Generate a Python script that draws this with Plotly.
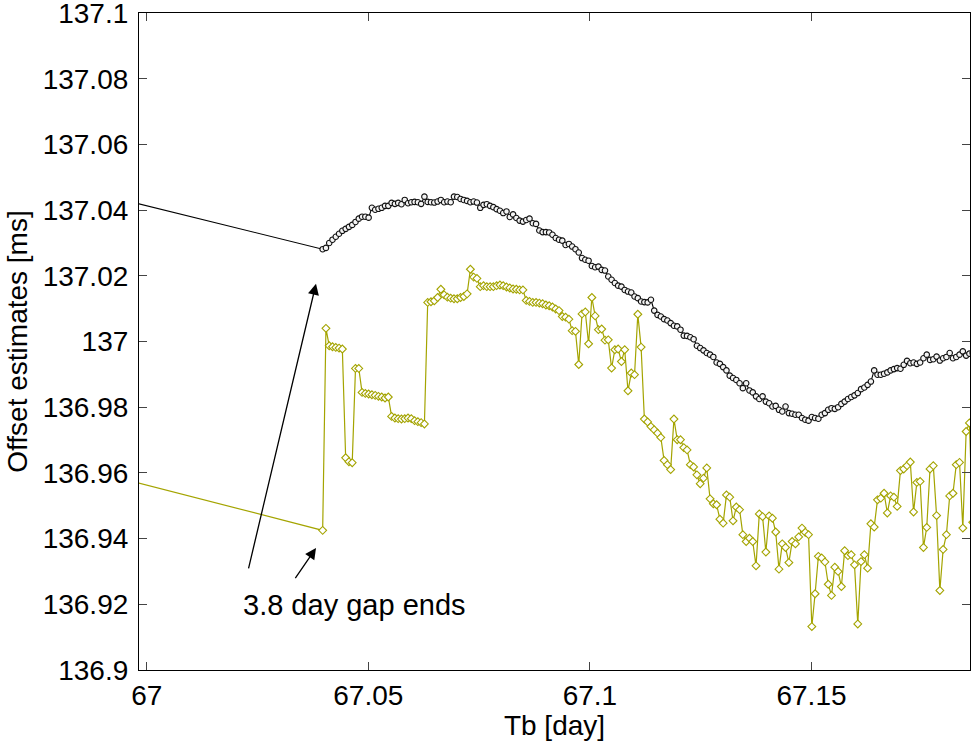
import plotly.graph_objects as go

# ---- data ----
t_before_gap = 63.2397          # last sample before the 3.8 day gap [day]
black_before_gap = 138.2935
yellow_before_gap = 138.2630

t_days = [
    67.03970, 67.04044, 67.04118, 67.04192, 67.04266, 67.04340, 67.04414, 67.04489, 67.04563,
    67.04637, 67.04711, 67.04785, 67.04859, 67.04933, 67.05007, 67.05081, 67.05155, 67.05229,
    67.05303, 67.05377, 67.05451, 67.05526, 67.05600, 67.05674, 67.05748, 67.05822, 67.05896,
    67.05970, 67.06044, 67.06118, 67.06192, 67.06266, 67.06340, 67.06414, 67.06489, 67.06563,
    67.06637, 67.06711, 67.06785, 67.06859, 67.06933, 67.07007, 67.07081, 67.07155, 67.07229,
    67.07303, 67.07377, 67.07451, 67.07526, 67.07600, 67.07674, 67.07748, 67.07822, 67.07896,
    67.07970, 67.08044, 67.08118, 67.08192, 67.08266, 67.08340, 67.08414, 67.08489, 67.08563,
    67.08637, 67.08711, 67.08785, 67.08859, 67.08933, 67.09007, 67.09081, 67.09155, 67.09229,
    67.09303, 67.09377, 67.09451, 67.09526, 67.09600, 67.09674, 67.09748, 67.09822, 67.09896,
    67.09970, 67.10044, 67.10118, 67.10192, 67.10266, 67.10340, 67.10414, 67.10489, 67.10563,
    67.10637, 67.10711, 67.10785, 67.10859, 67.10933, 67.11007, 67.11081, 67.11155, 67.11229,
    67.11303, 67.11377, 67.11451, 67.11526, 67.11600, 67.11674, 67.11748, 67.11822, 67.11896,
    67.11970, 67.12044, 67.12118, 67.12192, 67.12266, 67.12340, 67.12414, 67.12489, 67.12563,
    67.12637, 67.12711, 67.12785, 67.12859, 67.12933, 67.13007, 67.13081, 67.13155, 67.13229,
    67.13303, 67.13377, 67.13451, 67.13526, 67.13600, 67.13674, 67.13748, 67.13822, 67.13896,
    67.13970, 67.14044, 67.14118, 67.14192, 67.14266, 67.14340, 67.14414, 67.14489, 67.14563,
    67.14637, 67.14711, 67.14785, 67.14859, 67.14933, 67.15007, 67.15081, 67.15155, 67.15229,
    67.15303, 67.15377, 67.15451, 67.15526, 67.15600, 67.15674, 67.15748, 67.15822, 67.15896,
    67.15970, 67.16044, 67.16118, 67.16192, 67.16266, 67.16340, 67.16414, 67.16489, 67.16563,
    67.16637, 67.16711, 67.16785, 67.16859, 67.16933, 67.17007, 67.17081, 67.17155, 67.17229,
    67.17303, 67.17377, 67.17451, 67.17526, 67.17600, 67.17674, 67.17748, 67.17822, 67.17896,
    67.17970, 67.18044, 67.18118, 67.18192, 67.18266, 67.18340, 67.18414, 67.18489, 67.18563,
    67.18637,
]

black_offsets = [
    137.0281, 137.0285, 137.0300, 137.0310, 137.0319, 137.0328, 137.0337, 137.0343, 137.0349,
    137.0355, 137.0364, 137.0374, 137.0380, 137.0380, 137.0377, 137.0407, 137.0401, 137.0404,
    137.0407, 137.0413, 137.0413, 137.0422, 137.0419, 137.0422, 137.0418, 137.0431, 137.0421,
    137.0424, 137.0425, 137.0424, 137.0419, 137.0441, 137.0425, 137.0424, 137.0423, 137.0426,
    137.0431, 137.0424, 137.0426, 137.0424, 137.0441, 137.0440, 137.0434, 137.0431, 137.0428,
    137.0424, 137.0426, 137.0423, 137.0407, 137.0416, 137.0418, 137.0413, 137.0409, 137.0403,
    137.0398, 137.0391, 137.0396, 137.0379, 137.0387, 137.0376, 137.0368, 137.0365, 137.0370,
    137.0374, 137.0360, 137.0358, 137.0338, 137.0333, 137.0333, 137.0332, 137.0325, 137.0315,
    137.0310, 137.0307, 137.0294, 137.0297, 137.0289, 137.0281, 137.0271, 137.0254, 137.0249,
    137.0246, 137.0230, 137.0226, 137.0228, 137.0218, 137.0216, 137.0198, 137.0188, 137.0178,
    137.0170, 137.0167, 137.0157, 137.0152, 137.0149, 137.0137, 137.0132, 137.0122, 137.0120,
    137.0119, 137.0127, 137.0094, 137.0081, 137.0076, 137.0068, 137.0064, 137.0056, 137.0048,
    137.0046, 137.0036, 137.0018, 137.0017, 137.0013, 137.0007, 136.9987, 136.9980, 136.9973,
    136.9965, 136.9960, 136.9953, 136.9936, 136.9932, 136.9922, 136.9912, 136.9896, 136.9889,
    136.9883, 136.9873, 136.9858, 136.9873, 136.9851, 136.9845, 136.9833, 136.9825, 136.9833,
    136.9817, 136.9812, 136.9802, 136.9804, 136.9792, 136.9787, 136.9802, 136.9782, 136.9780,
    136.9777, 136.9777, 136.9767, 136.9762, 136.9759, 136.9770, 136.9767, 136.9765, 136.9777,
    136.9782, 136.9792, 136.9797, 136.9795, 136.9800, 136.9810, 136.9817, 136.9825, 136.9831,
    136.9836, 136.9843, 136.9855, 136.9860, 136.9868, 136.9878, 136.9912, 136.9899, 136.9899,
    136.9902, 136.9906, 136.9912, 136.9916, 136.9919, 136.9917, 136.9929, 136.9941, 136.9934,
    136.9936, 136.9932, 136.9936, 136.9949, 136.9960, 136.9944, 136.9946, 136.9954, 136.9942,
    136.9949, 136.9953, 136.9965, 136.9949, 136.9953, 136.9960, 136.9970, 136.9957, 136.9963,
    136.9965,
]

yellow_offsets = [
    136.9425, 137.0040, 136.9987, 136.9984, 136.9982, 136.9980, 136.9977, 136.9646, 136.9634,
    136.9631, 136.9918, 136.9918, 136.9845, 136.9842, 136.9840, 136.9838, 136.9836, 136.9833,
    136.9831, 136.9828, 136.9831, 136.9772, 136.9767, 136.9765, 136.9764, 136.9765, 136.9767,
    136.9765, 136.9759, 136.9756, 136.9753, 136.9749, 137.0119, 137.0121, 137.0124, 137.0134,
    137.0159, 137.0142, 137.0135, 137.0132, 137.0130, 137.0130, 137.0134, 137.0137, 137.0145,
    137.0220, 137.0196, 137.0192, 137.0167, 137.0170, 137.0167, 137.0167, 137.0167, 137.0170,
    137.0172, 137.0170, 137.0166, 137.0163, 137.0160, 137.0159, 137.0157, 137.0157, 137.0125,
    137.0122, 137.0119, 137.0119, 137.0117, 137.0115, 137.0111, 137.0109, 137.0105, 137.0099,
    137.0094, 137.0076, 137.0074, 137.0068, 137.0033, 137.0031, 136.9930, 137.0084, 137.0090,
    136.9993, 137.0134, 137.0078, 137.0036, 137.0038, 137.0004, 137.0005, 136.9919, 136.9975,
    136.9977, 136.9939, 136.9975, 136.9850, 136.9904, 136.9899, 137.0083, 136.9983, 136.9764,
    136.9755, 136.9741, 136.9731, 136.9721, 136.9708, 136.9638, 136.9625, 136.9610, 136.9764,
    136.9701, 136.9701, 136.9677, 136.9670, 136.9625, 136.9618, 136.9594, 136.9567, 136.9584,
    136.9615, 136.9521, 136.9506, 136.9503, 136.9459, 136.9447, 136.9533, 136.9526, 136.9454,
    136.9496, 136.9488, 136.9412, 136.9391, 136.9401, 136.9391, 136.9317, 136.9475, 136.9467,
    136.9359, 136.9469, 136.9462, 136.9420, 136.9307, 136.9384, 136.9373, 136.9327, 136.9391,
    136.9384, 136.9405, 136.9432, 136.9419, 136.9412, 136.9132, 136.9232, 136.9346, 136.9341,
    136.9329, 136.9261, 136.9227, 136.9313, 136.9300, 136.9254, 136.9363, 136.9348, 136.9351,
    136.9320, 136.9140, 136.9330, 136.9351, 136.9310, 136.9445, 136.9435, 136.9518, 136.9523,
    136.9538, 136.9478, 136.9530, 136.9526, 136.9498, 136.9607, 136.9612, 136.9622, 136.9633,
    136.9481, 136.9571, 136.9574, 136.9373, 136.9434, 136.9612, 136.9622, 136.9470, 136.9242,
    136.9367, 136.9412, 136.9530, 136.9538, 136.9625, 136.9632, 136.9432, 136.9726, 136.9752,
    136.9450,
]

x_tickvals = [67.0, 67.05, 67.1, 67.15]
x_ticktext = ["67", "67.05", "67.1", "67.15"]
y_tickvals = [136.9, 136.92, 136.94, 136.96, 136.98, 137.0, 137.02, 137.04, 137.06, 137.08, 137.1]
y_ticktext = ["136.9", "136.92", "136.94", "136.96", "136.98", "137",
              "137.02", "137.04", "137.06", "137.08", "137.1"]

x_range = [66.99826, 67.18576]
y_range = [136.89999, 137.10001]

FONT = "Liberation Sans, Arial, Helvetica, sans-serif"
BLACK = "#000000"
OLIVE = "#a4a400"

fig = go.Figure()

fig.add_trace(go.Scatter(
    x=[t_before_gap] + t_days,
    y=[yellow_before_gap] + yellow_offsets,
    mode="lines+markers",
    line=dict(color=OLIVE, width=1.2),
    marker=dict(symbol="diamond", size=6, color="white",
                line=dict(color=OLIVE, width=1.1)),
    showlegend=False,
))

fig.add_trace(go.Scatter(
    x=[t_before_gap] + t_days,
    y=[black_before_gap] + black_offsets,
    mode="lines+markers",
    line=dict(color=BLACK, width=1.1),
    marker=dict(symbol="circle", size=5.5, color="#f4f4f4",
                line=dict(color="#111111", width=1.1)),
    showlegend=False,
))

arrow_style = dict(showarrow=True, arrowhead=2, arrowsize=1.7, arrowwidth=1.3,
                   arrowcolor="black", axref="x", ayref="y", text="", standoff=0)
fig.add_annotation(x=67.0382, y=137.0176, ax=67.0229, ay=136.9305, **arrow_style)
fig.add_annotation(x=67.0382, y=136.9371, ax=67.0333, ay=136.9275, **arrow_style)
fig.add_annotation(x=67.0469, y=136.9198, text="3.8 day gap ends", showarrow=False,
                   font=dict(family=FONT, size=29, color="black"))

axis_common = dict(
    showgrid=False, zeroline=False, showline=True, linecolor="black", linewidth=1.2,
    mirror="allticks", ticks="inside", ticklen=8, tickwidth=1, tickcolor="#444444",
    tickfont=dict(family=FONT, size=28, color="black"), ticklabeloverflow="allow",
)

fig.update_xaxes(range=x_range, tickvals=x_tickvals, ticktext=x_ticktext,
                 title=dict(text="Tb [day]", font=dict(family=FONT, size=28, color="black"),
                            standoff=0),
                 ticklabelstandoff=0, **axis_common)
fig.update_yaxes(range=y_range, tickvals=y_tickvals, ticktext=y_ticktext,
                 title=dict(text="Offset estimates [ms]", font=dict(family=FONT, size=28, color="black"),
                            standoff=6),
                 ticklabelstandoff=4, **axis_common)

fig.update_layout(
    width=973, height=741,
    margin=dict(l=139, r=3, t=13, b=71, autoexpand=False),
    paper_bgcolor="white", plot_bgcolor="white",
    font=dict(family=FONT, size=28, color="black"),
)

fig.write_html("out.html")
